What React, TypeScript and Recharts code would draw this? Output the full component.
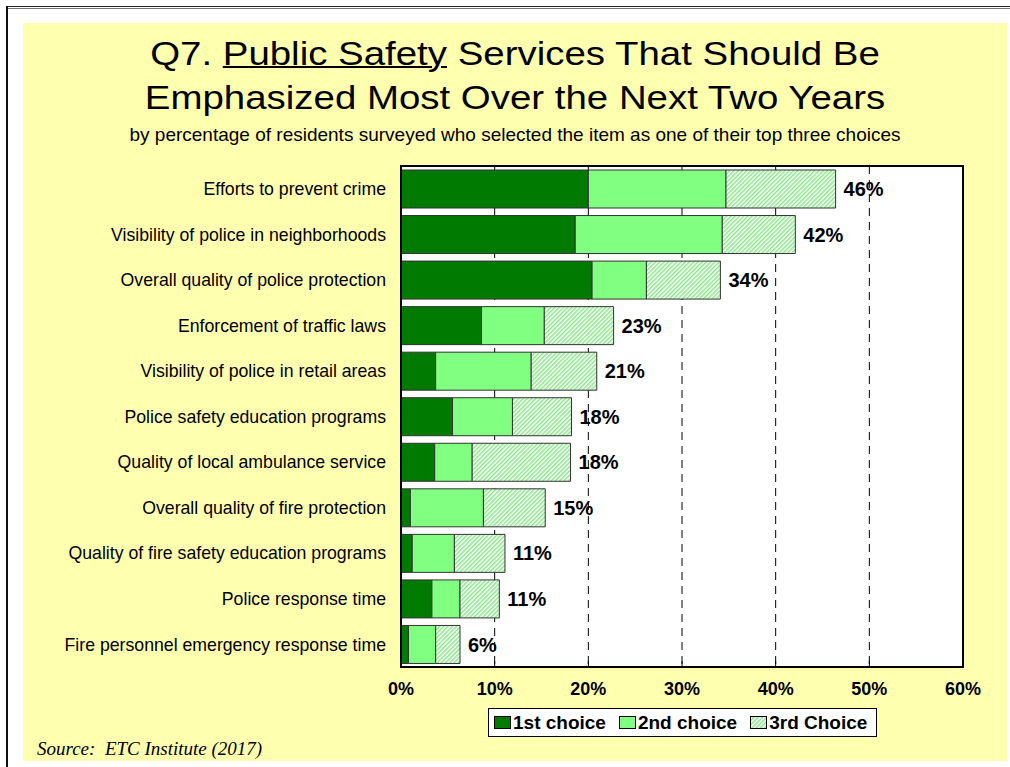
import { BarChart, Bar, XAxis, YAxis, CartesianGrid, LabelList } from "recharts";

const categories = [
  "Efforts to prevent crime",
  "Visibility of police in neighborhoods",
  "Overall quality of police protection",
  "Enforcement of traffic laws",
  "Visibility of police in retail areas",
  "Police safety education programs",
  "Quality of local ambulance service",
  "Overall quality of fire protection",
  "Quality of fire safety education programs",
  "Police response time",
  "Fire personnel emergency response time",
];
const firstChoice = [20.0, 18.6, 20.4, 8.6, 3.7, 5.5, 3.6, 1.0, 1.2, 3.3, 0.8];
const secondChoice = [14.7, 15.7, 5.8, 6.7, 10.2, 6.4, 4.0, 7.8, 4.5, 3.0, 2.9];
const thirdChoice = [11.7, 7.8, 7.9, 7.4, 7.0, 6.3, 10.5, 6.6, 5.4, 4.2, 2.6];
const totals = [46, 42, 34, 23, 21, 18, 18, 15, 11, 11, 6];
const xTicks = [0, 10, 20, 30, 40, 50, 60];
const legendLabels = ["1st choice", "2nd choice", "3rd Choice"];

const data = categories.map((name, i) => ({
  name,
  first: firstChoice[i],
  second: secondChoice[i],
  third: thirdChoice[i],
  total: totals[i],
}));

const DARK = "#007A00";
const LIGHT = "#80FF80";
const FONT = "'Liberation Sans', Arial, sans-serif";
const fills = [DARK, LIGHT, "url(#hatch)"];

const XTick = (props: any) => {
  const { x, y, payload } = props;
  return (
    <g>
      <line x1={x} x2={x} y1={y - 15} y2={y - 21} stroke="#000" />
      <text x={x} y={y} dy="0.71em" textAnchor="middle" fontSize={18} fontWeight="bold" fill="#000" fontFamily={FONT}>
        {payload.value}%
      </text>
    </g>
  );
};

const Swatch = ({ fill }: { fill: string }) => (
  <svg width={17} height={13} style={{ display: "block" }}>
    <rect x={0.5} y={0.5} width={16} height={12} fill={fill} stroke="#000" />
  </svg>
);

const LegendBox = () => (
  <div
    style={{
      position: "absolute",
      left: 488,
      top: 708,
      width: 389,
      height: 29,
      display: "flex",
      alignItems: "center",
      gap: 13,
      boxSizing: "border-box",
      border: "1px solid #000",
      background: "#fff",
      padding: "0 0 0 5px",
      fontFamily: FONT,
      fontWeight: "bold",
      fontSize: 19,
      color: "#000",
      whiteSpace: "nowrap",
    }}
  >
    {legendLabels.map((label, i) => (
      <div key={label} style={{ display: "flex", alignItems: "center", gap: 2 }}>
        <Swatch fill={fills[i]} />
        <span>{label}</span>
      </div>
    ))}
  </div>
);

export default function App() {
  return (
    <div style={{ position: "absolute", left: 0, top: 0, width: 1010, height: 767, overflow: "hidden", background: "#fff" }}>
      <div style={{ position: "absolute", left: 6, top: 6, width: 1004, height: 1, background: "#222" }} />
      <div style={{ position: "absolute", left: 6, top: 8, width: 1004, height: 1, background: "#777" }} />
      <div style={{ position: "absolute", left: 6, top: 6, width: 2, height: 761, background: "#111" }} />
      <div style={{ position: "absolute", left: 23, top: 23, width: 984, height: 738, background: "#FFFFB0" }} />
      <div
        style={{
          position: "absolute",
          left: 23,
          top: 31,
          width: 984,
          textAlign: "center",
          fontFamily: FONT,
          fontSize: 34,
          lineHeight: "44px",
          color: "#000",
          transform: "scaleX(1.13)",
          transformOrigin: "center",
        }}
      >
        <div>
          Q7. <span style={{ textDecoration: "underline", textDecorationThickness: 2 }}>Public Safety</span> Services That Should Be
        </div>
        <div>Emphasized Most Over the Next Two Years</div>
      </div>
      <div
        style={{
          position: "absolute",
          left: 23,
          top: 125,
          width: 984,
          textAlign: "center",
          fontFamily: FONT,
          fontSize: 19,
          lineHeight: "19px",
          color: "#000",
        }}
      >
        by percentage of residents surveyed who selected the item as one of their top three choices
      </div>
      <div
        style={{
          position: "absolute",
          left: 37,
          top: 739,
          fontFamily: "'Liberation Serif', 'Times New Roman', serif",
          fontStyle: "italic",
          fontSize: 19,
          lineHeight: "19px",
          color: "#000",
          whiteSpace: "pre",
        }}
      >
        Source:  ETC Institute (2017)
      </div>
      <div style={{ position: "absolute", left: 0, top: 0 }}>
        <BarChart
          width={1010}
          height={767}
          data={data}
          layout="vertical"
          barSize={38}
          margin={{ top: 166, right: 47, bottom: 70, left: 0 }}
        >
          <defs>
            <pattern id="hatch" patternUnits="userSpaceOnUse" width={3} height={3} patternTransform="rotate(45)">
              <rect width={3} height={3} fill="#fff" />
              <line x1={0.75} y1={0} x2={0.75} y2={3} stroke="#8AE68A" strokeWidth={1.5} />
            </pattern>
          </defs>
          <CartesianGrid horizontal={false} stroke="#000" strokeDasharray="8 6" fill="#fff" />
          <XAxis
            type="number"
            domain={[0, 60]}
            ticks={xTicks}
            height={30}
            tickSize={0}
            tickMargin={15}
            axisLine={false}
            tick={<XTick />}
          />
          <YAxis
            type="category"
            dataKey="name"
            width={401}
            tickSize={0}
            tickMargin={15}
            axisLine={false}
            interval={0}
            tick={{ fontSize: 17.7, fill: "#000", fontFamily: FONT }}
          />
          <Bar dataKey="first" stackId="a" fill={DARK} stroke="#333" strokeWidth={1} isAnimationActive={false} />
          <Bar dataKey="second" stackId="a" fill={LIGHT} stroke="#333" strokeWidth={1} isAnimationActive={false} />
          <Bar dataKey="third" stackId="a" fill="url(#hatch)" stroke="#333" strokeWidth={1} isAnimationActive={false}>
            <LabelList
              dataKey="total"
              position="right"
              offset={8}
              formatter={(v: any) => `${v}%`}
              style={{ fontSize: 20, fontWeight: "bold", fill: "#000", fontFamily: FONT }}
            />
          </Bar>
        </BarChart>
      </div>
      <div
        style={{
          position: "absolute",
          left: 400,
          top: 165,
          width: 564,
          height: 503,
          boxSizing: "border-box",
          border: "2px solid #000",
          pointerEvents: "none",
        }}
      />
      <LegendBox />
    </div>
  );
}
